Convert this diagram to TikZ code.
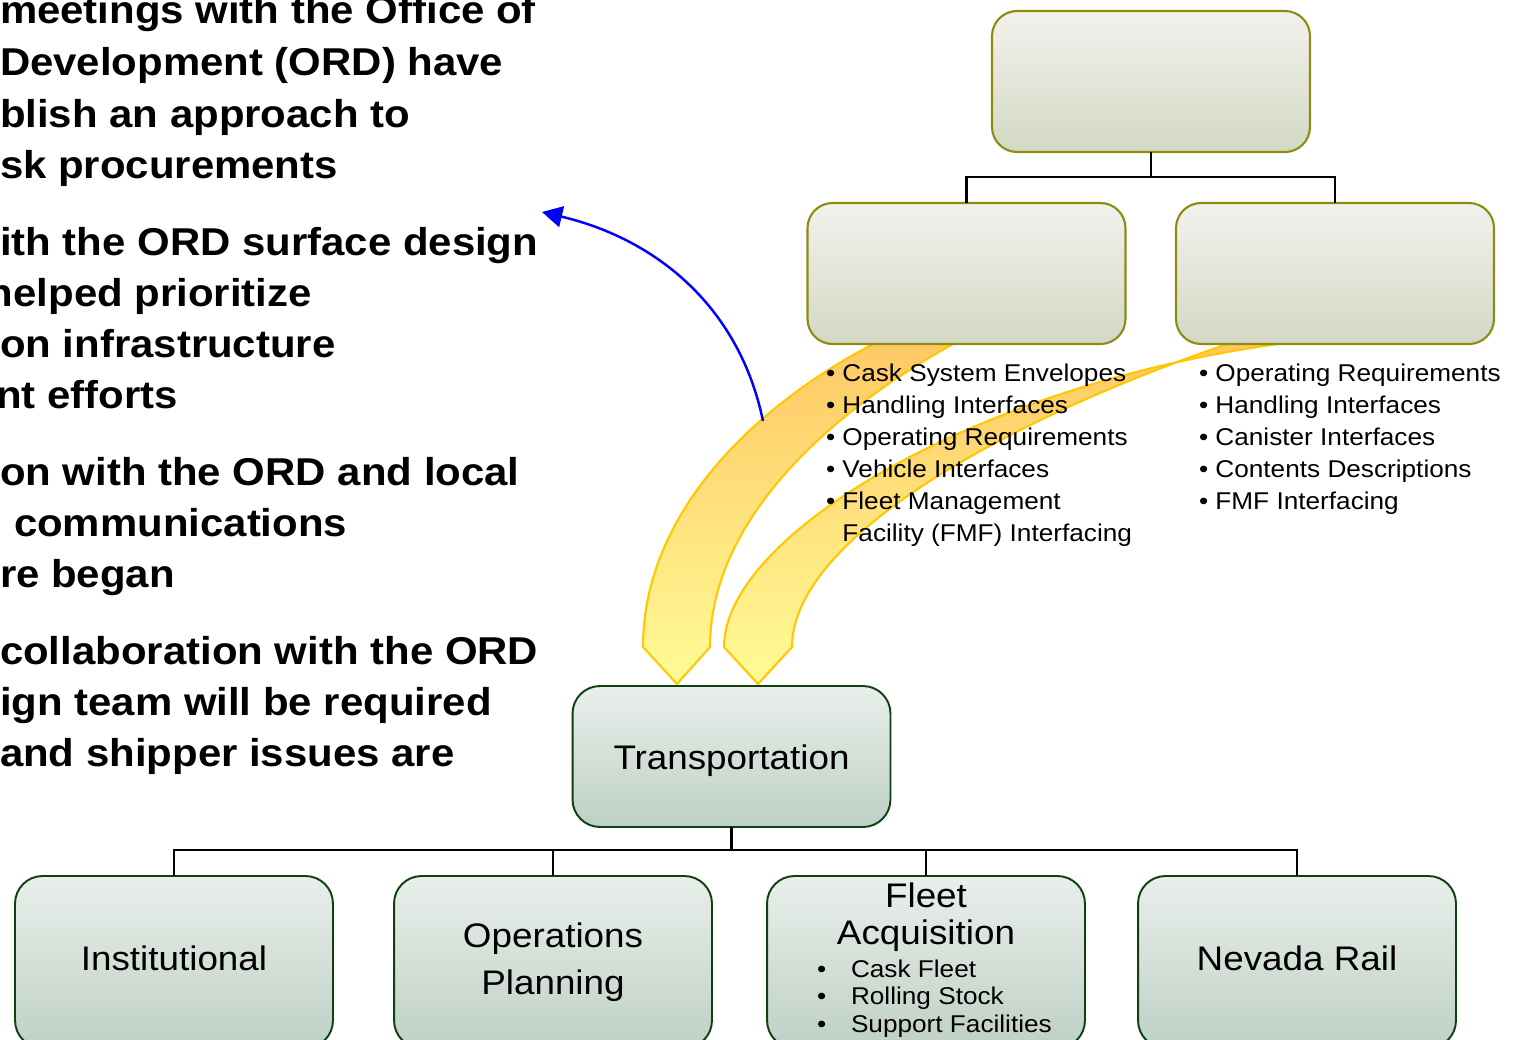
\documentclass[tikz,border=0pt]{standalone}
\usepackage{fontspec}
\setmainfont{Liberation Sans}[FakeStretch=1.08]
\usetikzlibrary{arrows.meta}
\definecolor{olivebd}{RGB}{140,140,20}
\definecolor{tfa}{RGB}{242,242,237}
\definecolor{tfb}{RGB}{211,216,196}
\definecolor{greenbd}{RGB}{16,64,16}
\definecolor{gfa}{RGB}{233,239,235}
\definecolor{gfb}{RGB}{190,208,197}
\definecolor{arrowbd}{RGB}{255,200,0}
\definecolor{arrowtop}{RGB}{254,200,100}
\definecolor{arrowbot}{RGB}{255,251,150}
\newcommand\lefttextfont{\fontsize{22.1}{26}\selectfont\bfseries}
\newcommand\boxtextfont{\fontsize{19.4}{26}\selectfont}
\newcommand\listtextfont{\fontsize{13.8}{18}\selectfont}
\begin{document}
\begin{tikzpicture}[x=0.02cm,y=-0.02cm,
  every node/.style={inner sep=0pt, outer sep=0pt},
  tanbox/.style={draw=olivebd, line width=1.2pt, rounded corners=0.5cm, top color=tfa, bottom color=tfb, minimum width=6.36cm, minimum height=2.82cm},
  grnbox/.style={draw=greenbd, line width=1.1pt, rounded corners=0.55cm, top color=gfa, bottom color=gfb, minimum width=6.36cm, minimum height=2.82cm, align=center, font=\boxtextfont},
  lefttext/.style={anchor=base west, font=\lefttextfont},
  listtext/.style={anchor=base west, font=\listtextfont},
  conn/.style={draw=black, line width=1.4pt},
  yarrow/.style={draw=arrowbd, line width=1.2pt, top color=arrowtop, bottom color=arrowbot},
]
\useasboundingbox (0,0) rectangle (1522,1039);
\fill[white] (0,0) rectangle (1522,1039);

% yellow curved block arrows
\path[yarrow] (885,338) .. controls (760,400) and (643,510) .. (643,647)
  -- (677,684) -- (710,647)
  .. controls (710,520) and (830,410) .. (964,338) -- cycle;
\path[yarrow] (1328,338) .. controls (1000,370) and (724,530) .. (724,647)
  -- (758,684) -- (792,647)
  .. controls (792,540) and (1000,420) .. (1245,338) -- cycle;

% top boxes
\node[tanbox] (top) at (1151,81.5) {};
\node[tanbox] (midL) at (966.5,273.5) {};
\node[tanbox] (midR) at (1335,273.5) {};
\draw[conn] (top.south) -- ++(0,25) -| (midL.north);
\draw[conn] (top.south) -- ++(0,25) -| (midR.north);

% bullet lists under middle boxes
\foreach \yy/\tx in {381/{• Cask System Envelopes},413/{• Handling Interfaces},445/{• Operating Requirements},477/{• Vehicle Interfaces},509/{• Fleet Management},541/{\phantom{• }Facility (FMF) Interfacing}}
  \node[listtext] (la\yy) at (826,\yy) {\tx};
\foreach \yy/\tx in {381/{• Operating Requirements},413/{• Handling Interfaces},445/{• Canister Interfaces},477/{• Contents Descriptions},509/{• FMF Interfacing}}
  \node[listtext] (lb\yy) at (1199,\yy) {\tx};

% transportation and bottom boxes
\node[grnbox, text height=18.4pt, text depth=4pt] (trans) at (731.5,756.5) {Transportation};
\node[grnbox, minimum height=3.44cm] (inst) at (174,962) {\raisebox{4pt}{Institutional}};
\node[grnbox, minimum height=3.44cm] (ops) at (553,962) {\raisebox{2.3pt}{Operations}\\[1pt]\raisebox{2.3pt}{Planning}};
\node[grnbox, minimum height=3.44cm] (fleet) at (926,962) {};
\node[grnbox, minimum height=3.44cm] (nev) at (1297,962) {\raisebox{4pt}{Nevada Rail}};
\node[font=\boxtextfont, align=center] (fleetT) at (926,917) {Fleet\\[-5pt]Acquisition};
\foreach \yy/\tx in {977/Cask Fleet,1004/Rolling Stock,1032/Support Facilities}{
  \node[listtext] (fb\yy) at (851,\yy) {\tx};
  \node[listtext] (fd\yy) at (817,\yy) {•};
}
\draw[conn] (trans.south) -- ++(0,23) -| (inst.north);
\draw[conn] (trans.south) -- ++(0,23) -| (ops.north);
\draw[conn] (trans.south) -- ++(0,23) -| (fleet.north);
\draw[conn] (trans.south) -- ++(0,23) -| (nev.north);

% left text (cut at the left edge, as in the reference)
\foreach \xx/\yy/\tx in {0/23/meetings with the Office of,0/75/Development (ORD) have,0/127/blish an approach to,0/178/sk procurements,0/255/ith the ORD surface design,-12/306/helped prioritize,0/357/on infrastructure,-4/408/nt efforts,0/485/on with the ORD and local,14/536/communications,0/587/re began,0/664/collaboration with the ORD,0/715/ign team will be required,0/766/and shipper issues are}
  \node[lefttext] (t\yy) at (\xx,\yy) {\tx};

% blue arrow
\coordinate (bs) at (763,421);
\coordinate (be) at (542,212);
\draw[blue, line width=1.4pt, -{Triangle[length=11.5pt,width=12pt]}] (bs) .. controls (740,310) and (660,240) .. (be);
\end{tikzpicture}
\end{document}
